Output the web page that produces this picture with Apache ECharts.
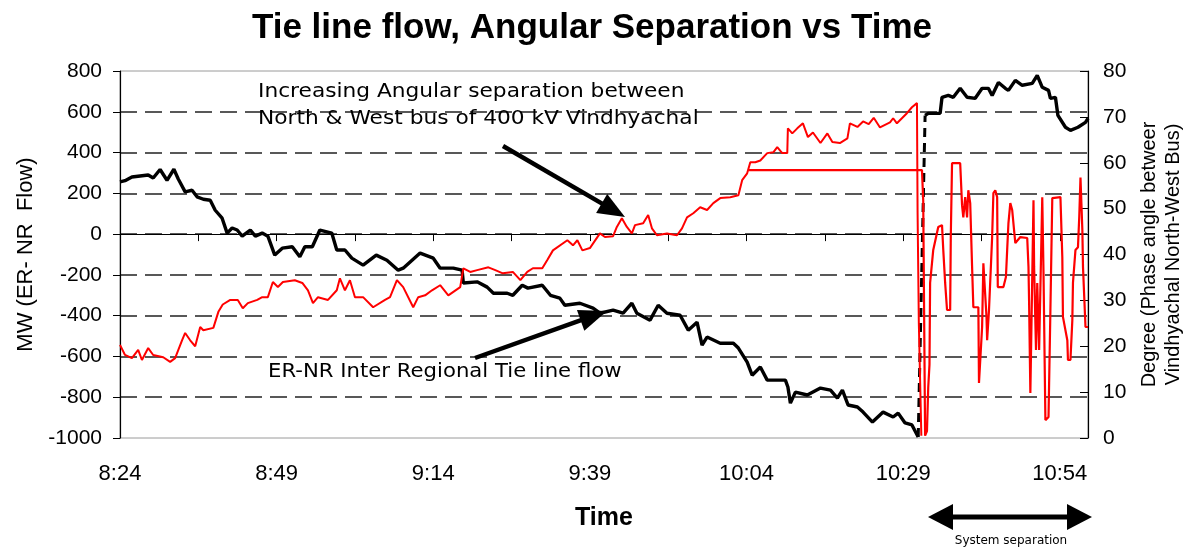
<!DOCTYPE html>
<html><head><meta charset="utf-8">
<script src="https://cdn.jsdelivr.net/npm/echarts@6/dist/echarts.min.js"></script>
<style>html,body{margin:0;padding:0;background:#fff}#c{width:1184px;height:548px}</style>
</head><body><div id="c"></div>
<script>
// time axis: minutes after 8:24
const startHour = 8, startMinute = 24;
const xTickMin = [0,12.5,25,37.5,50,62.5,75,87.5,100,112.5,125,137.5,150];
const xLabelMin = [0,25,50,75,100,125,150];

// ER-NR tie line flow (MW), before system separation
const flowMin = [0,0.8,1.9,3.2,4.5,5.3,6.4,7.5,8.6,9.3,10.4,11.5,12.3,13.3,14.4,15.2,16.3,17.1,17.9,18.7,19.5,20.8,21.6,22.7,23.6,24.7,25.9,27.5,28.7,29.5,30.7,31.9,33.8,34.6,35.9,37.0,38.8,40.9,42.6,44.4,45.2,47.9,50.0,51.1,53.2,54.6,54.8,57.0,58.6,59.6,61.8,62.7,64.2,65.1,67.4,68.7,70.2,71.0,73.4,75.5,76.6,78.7,80.3,81.7,82.5,84.6,85.9,87.3,89.4,90.7,92.1,92.9,93.7,95.8,97.9,98.7,100.1,100.9,102.2,103.3,106.2,106.6,107.0,107.8,109.7,111.8,113.4,114.5,115.3,116.2,117.7,118.6,120.1,121.8,123.4,124.2,125.3,126.4,127.4];
const flowMW = [256,262,280,285,290,275,317,264,318,270,207,215,183,171,166,117,78,5,30,20,-10,20,-10,5,-10,-103,-69,-62,-111,-62,-62,20,5,-78,-78,-118,-152,-103,-128,-177,-167,-93,-118,-167,-167,-177,-240,-234,-260,-290,-290,-300,-251,-265,-251,-300,-314,-349,-339,-363,-388,-373,-388,-339,-388,-422,-349,-388,-398,-471,-432,-544,-505,-535,-535,-559,-628,-692,-652,-716,-716,-750,-829,-775,-789,-755,-765,-804,-765,-838,-848,-873,-922,-873,-897,-878,-926,-936,-995];
// jump at separation (dashed)
const jumpMin = [127.4,128.5];
const jumpMW = [-995,582];
// flow after separation
const flow2Min = [128.5,129.0,130.9,131.2,132.2,133.0,134.1,135.2,136.5,137.6,138.6,139.2,140.2,141.3,141.8,142.9,144.0,145.6,146.4,147.2,148.2,148.5,149.3,149.7,150.9,151.7,152.9,154.1,154.5];
const flow2MW = [582,592,592,671,680,671,715,671,666,715,715,680,744,715,705,754,730,739,779,720,705,666,671,582,524,509,524,548,568];

// Phase angle between Vindhyachal North & West bus (degree)
const angleMin = [0,0.8,1.9,2.9,3.5,4.5,5.3,6.9,8.0,8.8,9.9,10.4,11.2,12.0,12.8,13.3,14.9,15.7,16.4,17.6,18.8,19.6,20.4,21.9,22.7,23.6,24.4,25.2,26.0,27.9,29.1,30.0,30.8,31.6,33.2,34.6,35.1,35.9,36.7,37.5,38.8,40.4,42.3,43.1,44.2,45.2,46.8,47.6,48.7,49.8,51.1,52.4,54.3,54.8,55.9,57.0,58.8,59.9,61.1,62.7,63.9,65.0,65.9,67.4,68.2,69.1,71.4,72.3,73.0,73.8,75.0,76.6,77.4,78.7,79.3,80.1,80.9,81.7,82.2,83.5,84.3,84.9,85.7,87.3,88.9,89.7,90.5,91.5,92.6,93.7,94.7,95.8,97.4,98.7,99.3,100.1,100.6,101.4,102.2,103.3,104.3,104.9,105.7,106.5,106.6,107.3,108.1,109.0,109.8,110.6,111.8,112.9,113.7,114.9,116.1,116.5,117.7,118.6,119.5,120.3,121.3,122.9,123.4,124.0,124.8,125.6,126.4,127.2,127.3,127.5,127.9];
const angleDeg = [20.3,18.1,17.4,19.2,17.0,19.6,18.1,17.6,16.6,17.4,21.3,22.9,21.3,20.0,24.2,23.5,24.0,27.5,29.1,30.1,30.1,28.3,29.4,30.1,30.7,30.7,34.0,32.9,34.0,34.4,33.8,32.2,29.4,30.7,30.1,32.2,34.8,32.2,34.4,30.7,30.7,28.5,30.1,30.7,34.4,32.9,28.5,30.7,31.1,32.2,33.3,31.1,32.9,37.0,36.2,36.6,37.2,36.6,35.9,36.2,34.4,36.2,37.0,37.0,38.8,40.9,43.1,42.0,43.1,40.9,41.4,44.6,43.8,44.0,46.0,47.9,46.0,44.6,46.4,46.8,48.6,45.7,44.2,44.6,44.2,45.7,48.1,49.0,50.3,49.7,51.2,52.3,52.5,52.9,56.2,57.7,60.1,60.1,60.5,62.1,62.3,63.4,62.1,62.1,67.5,66.4,67.5,68.6,65.6,66.6,64.3,66.4,64.5,64.3,65.3,68.6,67.8,69.0,68.4,69.8,67.7,68.8,69.7,68.6,69.7,70.8,72.1,73.0,49.2,25.0,0.5];
// angle record after separation
const angle2Min = [100.3,128.0,128.2,128.5,128.8,129.0,129.2,129.3,129.8,130.6,131.2,131.4,131.7,132.0,132.5,132.6,132.8,134.1,134.4,134.6,134.9,135.2,135.4,135.7,136.0,136.2,137.0,137.1,137.6,137.8,138.3,138.4,138.7,139.2,139.4,139.7,140.0,140.1,141.0,141.4,141.6,141.8,142.1,142.4,142.7,142.9,143.7,144.8,145.0,145.1,145.3,145.6,145.8,145.9,146.2,146.4,146.7,147.2,147.4,147.7,148.2,148.5,148.8,150.1,150.4,150.5,151.2,151.3,151.7,152.0,152.1,152.5,152.9,153.1,153.3,153.6,153.7,154.1,154.5];
const angle2Deg = [58.4,58.4,51.8,0.5,1.5,11.0,16.0,33.8,41.0,46.0,46.4,41.0,33.8,27.9,27.9,43.8,59.9,59.9,50.7,48.1,52.5,48.1,54.0,51.2,37.3,28.5,28.5,12.0,24.2,38.1,26.4,21.3,27.9,43.8,53.4,54.0,52.5,32.9,32.9,35.1,41.0,46.8,51.2,49.7,45.3,42.5,43.8,43.6,37.3,29.4,9.8,9.8,51.8,37.3,19.2,33.8,19.2,52.5,35.9,3.9,4.6,27.9,52.3,52.5,39.4,26.4,21.3,17.0,17.0,25.7,33.8,41.0,41.6,48.1,56.8,45.3,37.3,24.2,24.2];

const zip = (a, b) => a.map((v, i) => [v, b[i]]);
function fmtTime(m) {
  const t = startHour * 60 + startMinute + Math.round(m);
  return Math.floor(t / 60) + ':' + String(t % 60).padStart(2, '0');
}

const FONT = '"Liberation Sans", Arial, sans-serif';
const chart = echarts.init(document.getElementById('c'), null, {renderer: 'canvas'});

// arrow helper (annotation graphics)
function arrow(x1, y1, x2, y2, headLen, headHalf, width) {
  const dx = x2 - x1, dy = y2 - y1, L = Math.hypot(dx, dy);
  const ux = dx / L, uy = dy / L, nx = -uy, ny = ux;
  const bx = x2 - ux * headLen, by = y2 - uy * headLen;
  return [
    {type: 'line', shape: {x1, y1, x2: bx + ux * 2, y2: by + uy * 2}, style: {stroke: '#000', lineWidth: width}, z: 100},
    {type: 'polygon', shape: {points: [[x2, y2], [bx + nx * headHalf, by + ny * headHalf], [bx - nx * headHalf, by - ny * headHalf]]}, style: {fill: '#000'}, z: 100}
  ];
}

const option = {
  backgroundColor: '#fff',
  animation: false,
  title: {
    text: 'Tie line flow, Angular Separation vs Time',
    left: 'center', top: 6,
    textStyle: {fontFamily: FONT, fontSize: 35, fontWeight: 'bold', color: '#000'}
  },
  grid: {left: 120, right: 96, top: 71, bottom: 110, show: true, borderColor: '#9a9a9a', borderWidth: 1, outerBoundsMode: 'none', containLabel: false},
  xAxis: {
    type: 'value', min: 0, max: 154.5,
    name: 'Time', nameLocation: 'middle', nameGap: 68,
    nameTextStyle: {fontFamily: FONT, fontSize: 25, fontWeight: 'bold', color: '#000'},
    axisLine: {show: true, lineStyle: {color: '#000', width: 1.2}},
    axisTick: {show: true, customValues: xTickMin, length: 7, lineStyle: {color: '#000'}},
    axisLabel: {customValues: xLabelMin, formatter: v => fmtTime(v), fontFamily: FONT, fontSize: 22, color: '#000', margin: 25},
    splitLine: {show: false}
  },
  yAxis: [{
    type: 'value', min: -1000, max: 800, interval: 200, position: 'left',
    name: 'MW (ER- NR  Flow)', nameLocation: 'middle', nameGap: 66,
    nameTextStyle: {fontFamily: FONT, fontSize: 22, color: '#000'},
    axisLine: {show: true, lineStyle: {color: '#000', width: 1.2}},
    axisTick: {show: true, length: 7, lineStyle: {color: '#000'}},
    axisLabel: {fontFamily: FONT, fontSize: 21, color: '#000', margin: 18, formatter: v => String(v)},
    splitLine: {show: true, showMinLine: false, showMaxLine: false, lineStyle: {color: '#222', width: 1.5, type: [17, 8]}}
  }, {
    type: 'value', min: 0, max: 80, interval: 10, position: 'right',
    name: 'Degree (Phase angle betweer\nVindhyachal North-West Bus)', nameLocation: 'middle', nameGap: 44,
    nameTextStyle: {fontFamily: FONT, fontSize: 20, color: '#000', lineHeight: 24},
    axisLine: {show: true, lineStyle: {color: '#000', width: 1.2}},
    axisTick: {show: true, inside: true, length: 8, lineStyle: {color: '#000'}},
    axisLabel: {fontFamily: FONT, fontSize: 21, color: '#000', margin: 15, formatter: v => String(v)},
    splitLine: {show: false}
  }],
  series: [
    {type: 'line', yAxisIndex: 0, data: zip(flowMin, flowMW), showSymbol: false, lineStyle: {color: '#000', width: 3.4}, z: 2},
    {type: 'line', yAxisIndex: 0, data: zip(jumpMin, jumpMW), showSymbol: false, lineStyle: {color: '#000', width: 3, type: [9, 6]}, z: 2},
    {type: 'line', yAxisIndex: 0, data: zip(flow2Min, flow2MW), showSymbol: false, lineStyle: {color: '#000', width: 3.4}, z: 2},
    {type: 'line', yAxisIndex: 1, data: zip(angleMin, angleDeg), showSymbol: false, lineStyle: {color: '#ff0000', width: 2}, z: 3},
    {type: 'line', yAxisIndex: 1, data: zip(angle2Min, angle2Deg), showSymbol: false, lineStyle: {color: '#ff0000', width: 2.2}, z: 3}
  ],
  graphic: [
    {type: 'text', x: 258, y: 78, scaleX: 1.085, z: 100, style: {text: 'Increasing Angular separation between\nNorth & West bus of 400 kV Vindhyachal', fontFamily: '"DejaVu Sans", sans-serif', fontSize: 20, lineHeight: 27, fill: '#000'}},
    {type: 'text', x: 268, y: 362, scaleX: 1.06, z: 100, style: {text: 'ER-NR Inter Regional Tie line flow', fontFamily: '"DejaVu Sans", sans-serif', fontSize: 20, fill: '#000'}},
    ...arrow(503, 146, 625, 217, 27, 11, 4.5),
    ...arrow(475, 358, 607, 311, 28, 11, 4.5),
    {type: 'line', shape: {x1: 948, y1: 517, x2: 1072, y2: 517}, style: {stroke: '#000', lineWidth: 5}, z: 100},
    {type: 'polygon', shape: {points: [[928, 517], [953, 504], [953, 530]]}, style: {fill: '#000'}, z: 100},
    {type: 'polygon', shape: {points: [[1092, 517], [1067, 504], [1067, 530]]}, style: {fill: '#000'}, z: 100},
    {type: 'text', x: 1011, y: 541, z: 100, style: {text: 'System separation', fontFamily: '"DejaVu Sans", sans-serif', fontSize: 12, fill: '#000', align: 'center', verticalAlign: 'middle'}}
  ]
};
chart.setOption(option);
</script>
</body></html>
